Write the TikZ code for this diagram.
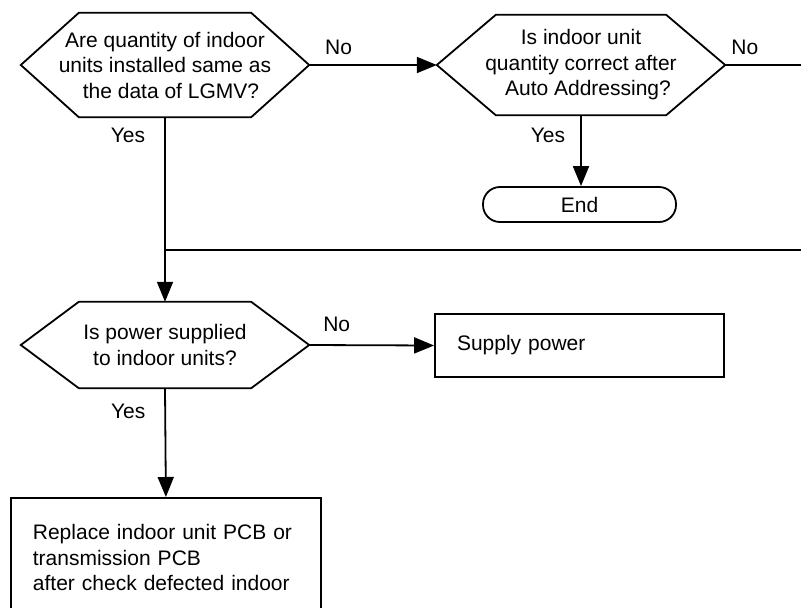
\documentclass[tikz,border=0pt]{standalone}
\usepackage{fontspec}
\setmainfont{Liberation Sans}
\usetikzlibrary{arrows.meta,calc}
\tikzset{
  ln/.style={line width=1.8pt},
  arr/.style={ln,-{Triangle[length=20pt,width=16pt]}},
  hexnode/.style={inner sep=0pt, align=center, minimum width=288pt},
  lab/.style={inner sep=0pt},
  boxnode/.style={draw, ln, align=left, inner xsep=22pt, inner ysep=0pt},
}
\newcommand\hexoutline[2]{%
  \draw[ln,line join=miter] (#1.west) -- ([xshift=#2]#1.north west) -- ([xshift=-#2]#1.north east)
    -- (#1.east) -- ([xshift=-#2]#1.south east) -- ([xshift=#2]#1.south west) -- cycle;}
\begin{document}
\begin{tikzpicture}[x=1pt,y=-1pt,font=\fontsize{21}{25.5}\selectfont]
\path[use as bounding box, clip] (0,0) rectangle (801,608);

% decision 1
\node[hexnode, minimum height=104pt] (h1) at (165,65)
  {Are quantity of indoor\\units installed same as\\\hspace*{12pt}the data of LGMV?};
\hexoutline{h1}{58pt}

% decision 2
\node[hexnode, minimum height=100pt] (h2) at (581,65)
  {Is indoor unit\\quantity correct after\\\hspace*{14pt}Auto Addressing?};
\hexoutline{h2}{59pt}

% end
\node[draw, ln, rounded corners=17pt, minimum width=193pt, minimum height=35pt, inner sep=0pt] (end) at (579.5,204.5) {End};

% decision 3
\node[hexnode, minimum height=86pt] (h3) at (165,345)
  {Is power supplied\\to indoor units?};
\hexoutline{h3}{58pt}

% supply power
\node[boxnode, minimum width=289pt, minimum height=63pt, text width=245pt] (sup) at (579.5,345.5) {Supply power};

% replace
\node[boxnode, anchor=north west, minimum width=310pt, minimum height=120pt, text width=266pt] (rep) at (10,497)
  {Replace indoor unit PCB or\\transmission PCB\\after check defected indoor};

\coordinate (exit1) at (801,65);
\coordinate (j) at (165,250);
\coordinate (exit2) at (801,250);

% connectors
\draw[arr] (h1.east) -- node[lab, pos=0.23, above=9pt] {No} (h2.west);
\draw[ln] (h2.east) -- node[lab, pos=0.26, above=9pt] {No} (exit1);
\draw[arr] (h1.south) -- node[lab, pos=0.1, left=19pt] {Yes} (h3.north);
\draw[ln] (j) -- (exit2);
\draw[arr] (h2.south) -- node[lab, pos=0.29, left=15pt] {Yes} (h2.south |- end.north);
\draw[arr] (h3.east) -- node[lab, pos=0.22, above=13pt] {No} (sup.west);
\draw[arr] (h3.south) -- node[lab, pos=0.21, left=19pt] {Yes} (rep.north);
\end{tikzpicture}
\end{document}
